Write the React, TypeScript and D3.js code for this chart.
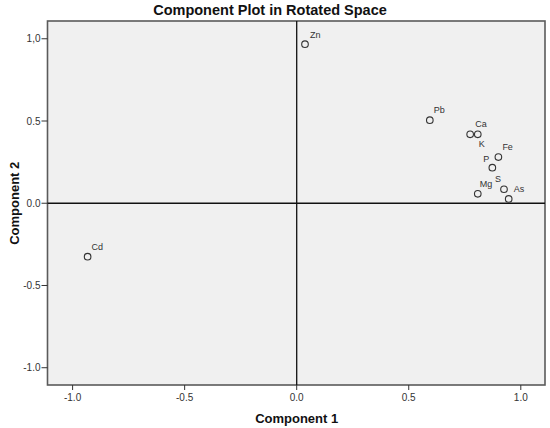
import React from "react";
import * as d3 from "d3";

const variables = ["Zn", "Pb", "Ca", "K", "Fe", "P", "S", "Mg", "As", "Cd"];
const component1 = [0.037, 0.594, 0.774, 0.808, 0.9, 0.873, 0.925, 0.808, 0.946, -0.933];
const component2 = [0.967, 0.505, 0.419, 0.419, 0.281, 0.216, 0.085, 0.057, 0.026, -0.325];
const xTicks = [-1, -0.5, 0, 0.5, 1];
const xTickLabels = ["-1.0", "-0.5", "0.0", "0.5", "1.0"];
const yTicks = [1, 0.5, 0, -0.5, -1];
const yTickLabels = ["1,0", "0.5", "0.0", "-0.5", "-1.0"];

// label placement (dx, dy, anchor) relative to each point
const labelPlacement: Record<string, [number, number, string]> = {
  Zn: [5, -6, "start"],
  Pb: [4, -7, "start"],
  Ca: [5, -7, "start"],
  K: [1, 13, "start"],
  Fe: [4, -7, "start"],
  P: [-3, -6, "end"],
  S: [-3, -7, "end"],
  Mg: [2, -7, "start"],
  As: [5, -7, "start"],
  Cd: [4, -7, "start"],
};

export default function App() {
  const W = 550, H = 428;
  const left = 47.5, right = 545, top = 21, bottom = 385;
  const x = d3.scaleLinear().domain([-1.112, 1.108]).range([left, right]);
  const y = d3.scaleLinear().domain([-1.105, 1.108]).range([bottom, top]);
  const font = "Arial, 'Liberation Sans', sans-serif";
  return (
    <svg width={W} height={H} style={{ position: "absolute", left: 0, top: 0, background: "#fff" }} fontFamily={font}>
      <text x={270} y={15} textAnchor="middle" fontSize={14.5} fontWeight="bold" fill="#111">
        Component Plot in Rotated Space
      </text>
      <rect x={left} y={top} width={right - left} height={bottom - top} fill="#f0f0f0" stroke="#5a5a5a" strokeWidth={1.6} />
      <line x1={x(0)} x2={x(0)} y1={top} y2={bottom} stroke="#111" strokeWidth={1.3} />
      <line x1={left} x2={right} y1={y(0)} y2={y(0)} stroke="#111" strokeWidth={1.3} />
      {xTicks.map((t, i) => (
        <g key={"xt" + i}>
          <line x1={x(t)} x2={x(t)} y1={bottom} y2={bottom + 5} stroke="#333" strokeWidth={1} />
          <text x={x(t)} y={bottom + 16} textAnchor="middle" fontSize={10} fill="#333">
            {xTickLabels[i]}
          </text>
        </g>
      ))}
      {yTicks.map((t, i) => (
        <g key={"yt" + i}>
          <line x1={left - 6} x2={left} y1={y(t)} y2={y(t)} stroke="#333" strokeWidth={1} />
          <text x={left - 7} y={y(t) + 3.5} textAnchor="end" fontSize={10} fill="#333">
            {yTickLabels[i]}
          </text>
        </g>
      ))}
      <text x={x(0)} y={423} textAnchor="middle" fontSize={13} fontWeight="bold" fill="#111">
        Component 1
      </text>
      <text transform={`translate(19,${y(0)}) rotate(-90)`} textAnchor="middle" fontSize={13} fontWeight="bold" fill="#111">
        Component 2
      </text>
      {variables.map((v, i) => {
        const px = x(component1[i]);
        const py = y(component2[i]);
        const [dx, dy, anchor] = labelPlacement[v];
        return (
          <g key={v}>
            <circle cx={px} cy={py} r={3.3} fill="none" stroke="#333" strokeWidth={1.1} />
            <text x={px + dx} y={py + dy} textAnchor={anchor as any} fontSize={9} fill="#333">
              {v}
            </text>
          </g>
        );
      })}
    </svg>
  );
}
